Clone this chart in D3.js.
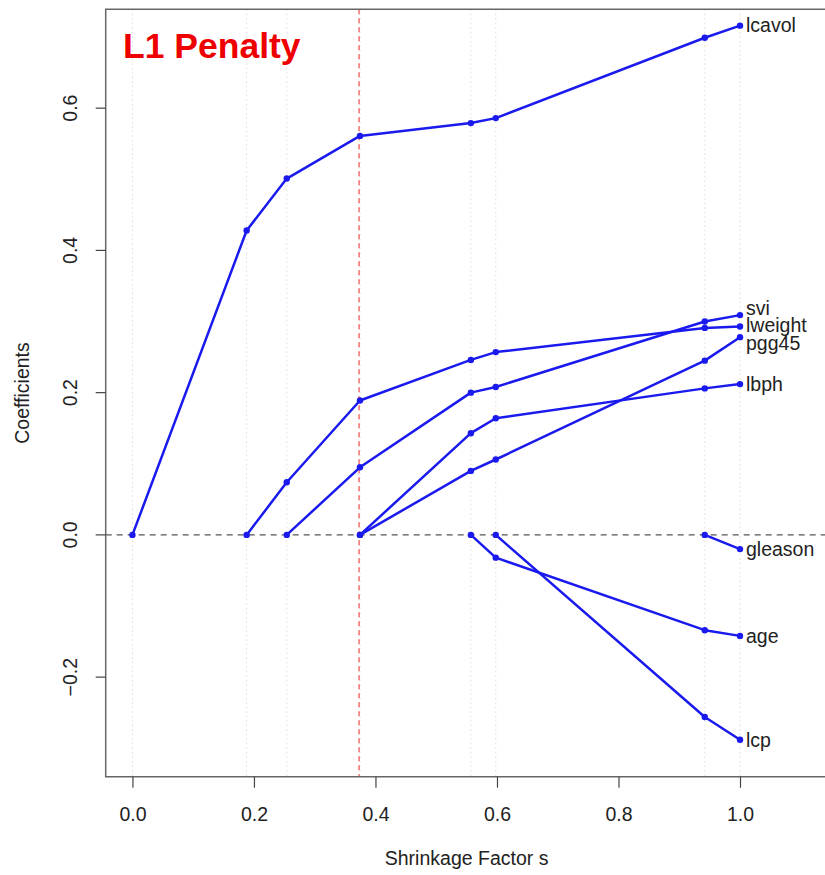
<!DOCTYPE html>
<html>
<head>
<meta charset="utf-8">
<script src="https://cdn.jsdelivr.net/npm/d3@7"></script>
<style>
  body { margin: 0; background: #fff; }
  text { font-family: "Liberation Sans", Arial, sans-serif; }
</style>
</head>
<body>
<svg id="chart" width="825" height="875"></svg>
<script>
// Lasso path values
const steps   = [0, 0.188, 0.254, 0.3745, 0.557, 0.598, 0.942, 1.0];
const lcavol  = [0, 0.428, 0.501, 0.561, 0.579, 0.586, 0.699, 0.716];
const lweight = [null, 0, 0.074, 0.189, 0.246, 0.257, 0.291, 0.293];
const svi     = [null, null, 0, 0.095, 0.200, 0.208, 0.300, 0.309];
const lbph    = [null, null, null, 0, 0.143, 0.164, 0.206, 0.212];
const pgg45   = [null, null, null, 0, 0.090, 0.106, 0.245, 0.278];
const age     = [null, null, null, null, 0, -0.032, -0.134, -0.142];
const lcp     = [null, null, null, null, null, 0, -0.256, -0.288];
const gleason = [null, null, null, null, null, null, 0, -0.020];
const xTicks = [0, 0.2, 0.4, 0.6, 0.8, 1.0];
const yTicks = [-0.2, 0.0, 0.2, 0.4, 0.6];
const chosenS = 0.373;

const series = [
  {name: "lcavol", vals: lcavol},
  {name: "lweight", vals: lweight},
  {name: "svi", vals: svi},
  {name: "lbph", vals: lbph},
  {name: "pgg45", vals: pgg45},
  {name: "age", vals: age},
  {name: "lcp", vals: lcp},
  {name: "gleason", vals: gleason}
];
// small vertical nudges so labels don't collide (px)
const nudge = {svi: -7, lweight: -1, pgg45: 6};

const svg = d3.select("#chart");
const pLeft = 105.7, pRight = 827.5, pTop = 9.3, pBottom = 776.7;

const x = d3.scaleLinear().domain([-0.044, 1.144]).range([pLeft, pRight]);
const y = d3.scaleLinear().domain([-0.34, 0.739]).range([pBottom, pTop]);

const blue = "#1a1aee";
const axisCol = "#666";
const textCol = "#222";

// dotted grid at each step
svg.append("g").selectAll("line")
  .data(steps)
  .join("line")
  .attr("x1", d => x(d)).attr("x2", d => x(d))
  .attr("y1", pTop).attr("y2", pBottom)
  .attr("stroke", "#dcdcdc")
  .attr("stroke-width", 1)
  .attr("stroke-dasharray", "1.5,3");

// zero line
svg.append("line")
  .attr("x1", pLeft).attr("x2", pRight)
  .attr("y1", y(0)).attr("y2", y(0))
  .attr("stroke", "#555")
  .attr("stroke-width", 1.2)
  .attr("stroke-dasharray", "6,5");

// chosen s
svg.append("line")
  .attr("x1", x(chosenS)).attr("x2", x(chosenS))
  .attr("y1", pTop).attr("y2", pBottom)
  .attr("stroke", "#f04848")
  .attr("stroke-width", 1.2)
  .attr("stroke-dasharray", "5,4");

// paths
const line = d3.line()
  .defined(d => d.v !== null)
  .x(d => x(d.s))
  .y(d => y(d.v));

series.forEach(function(ser) {
  const pts = ser.vals.map((v, i) => ({s: steps[i], v: v}));
  svg.append("path")
    .datum(pts)
    .attr("d", line)
    .attr("fill", "none")
    .attr("stroke", blue)
    .attr("stroke-width", 2.5)
    .attr("stroke-linejoin", "round");

  svg.append("g").selectAll("circle")
    .data(pts.filter(d => d.v !== null))
    .join("circle")
    .attr("cx", d => x(d.s))
    .attr("cy", d => y(d.v))
    .attr("r", 3.2)
    .attr("fill", blue);

  const last = pts[pts.length - 1];
  svg.append("text")
    .attr("x", x(last.s) + 6)
    .attr("y", y(last.v) + (nudge[ser.name] || 0))
    .attr("dy", "0.35em")
    .attr("font-size", 19.5)
    .attr("fill", textCol)
    .text(ser.name);
});

// box (right side runs off the picture)
svg.append("path")
  .attr("d", `M${pRight + 5},${pTop}H${pLeft}V${pBottom}H${pRight + 5}`)
  .attr("fill", "none")
  .attr("stroke", axisCol)
  .attr("stroke-width", 1.5);

// x axis
const xAxis = svg.append("g")
  .attr("transform", `translate(0,${pBottom})`)
  .call(d3.axisBottom(x).tickValues(xTicks).tickFormat(d3.format(".1f")).tickSize(11).tickPadding(19));
xAxis.select(".domain").remove();
xAxis.selectAll("line").attr("stroke", "#444").attr("stroke-width", 1.2);
xAxis.selectAll("text").attr("font-size", 19.5).attr("fill", textCol)
  .style("font-family", "'Liberation Sans', Arial, sans-serif");

// y axis
const yAxis = svg.append("g")
  .attr("transform", `translate(${pLeft},0)`)
  .call(d3.axisLeft(y).tickValues(yTicks).tickFormat(d3.format(".1f")).tickSize(10).tickPadding(0));
yAxis.select(".domain").remove();
yAxis.selectAll("line").attr("stroke", "#444").attr("stroke-width", 1.2);
yAxis.selectAll(".tick").attr("transform", null);
yAxis.selectAll(".tick line").attr("transform", d => `translate(0,${y(d)})`);
yAxis.selectAll(".tick text")
  .attr("x", null).attr("y", null).attr("dy", null)
  .attr("text-anchor", "middle")
  .attr("transform", d => `translate(-29,${y(d)}) rotate(-90)`)
  .attr("font-size", 19.5).attr("fill", textCol)
  .style("font-family", "'Liberation Sans', Arial, sans-serif");

// axis titles
svg.append("text")
  .attr("x", (pLeft + pRight) / 2)
  .attr("y", 865)
  .attr("text-anchor", "middle")
  .attr("font-size", 19.5)
  .attr("fill", textCol)
  .text("Shrinkage Factor s");

svg.append("text")
  .attr("transform", `translate(29,${(pTop + pBottom) / 2}) rotate(-90)`)
  .attr("text-anchor", "middle")
  .attr("font-size", 19.5)
  .attr("fill", textCol)
  .text("Coefficients");

// panel title
svg.append("text")
  .attr("x", 123)
  .attr("y", 58)
  .attr("font-size", 35.5)
  .attr("font-weight", "bold")
  .attr("fill", "#ee0000")
  .text("L1 Penalty");
</script>
</body>
</html>
